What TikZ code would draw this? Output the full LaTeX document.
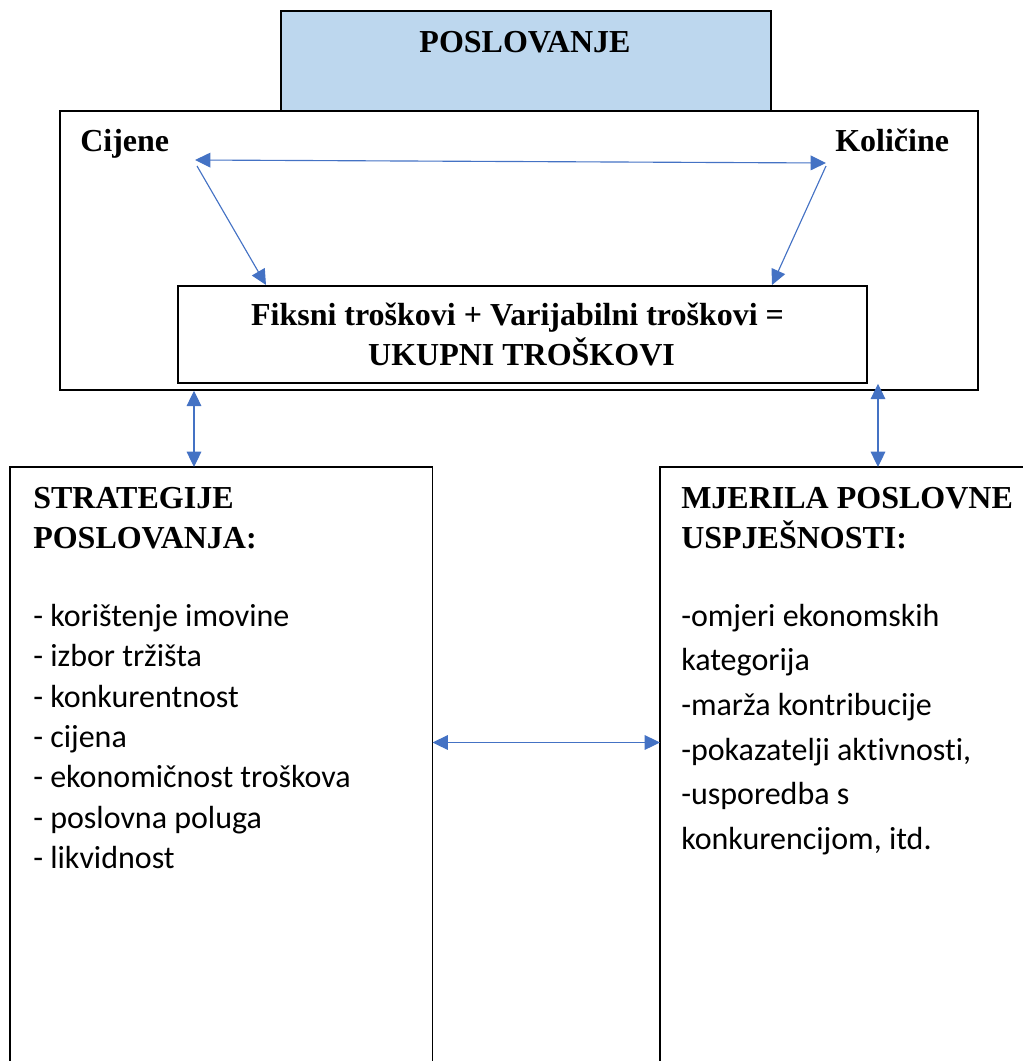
\documentclass[tikz,border=0pt]{standalone}
\usepackage{fontspec}
\setmainfont{Liberation Serif}
\newfontfamily\bodyfont[Ligatures=NoCommon]{Carlito}
\usetikzlibrary{arrows.meta,calc}
\definecolor{arrowblue}{HTML}{4472C4}
\definecolor{boxblue}{HTML}{BDD7EE}
\newcommand\hstrut{\rule{0pt}{22pt}}
\begin{document}
\begin{tikzpicture}[x=0.75pt,y=-0.75pt,
  box/.style={draw=black,line width=1.3pt,inner sep=0pt,anchor=north west},
  area/.style={inner sep=0pt,anchor=north west},
  head/.style={font=\fontsize{24}{30}\selectfont\bfseries,inner sep=0pt},
  body/.style={font=\bodyfont\fontsize{24}{30.3}\selectfont,inner sep=0pt,anchor=north west,align=left},
  tip/.tip={Triangle[length=11.5pt,width=11pt]},
  arr/.style={draw=arrowblue,line width=0.85pt,-tip},
  darr/.style={draw=arrowblue,line width=0.85pt,tip-tip}]
\useasboundingbox (0,0) rectangle (1022,1061);
% boxes
\node[box,fill=boxblue,minimum width=367.5pt,minimum height=75pt] (posl) at (280,10) {};
\node[box,minimum width=688.5pt,minimum height=209.25pt] (outer) at (59,110) {};
\node[box,minimum width=516.75pt,minimum height=72.75pt] (inner) at (177,285) {};
\node[area,minimum width=316.5pt,minimum height=445.5pt] (strat) at (10,467) {};
\node[area,minimum width=271.5pt,minimum height=445.5pt] (mjer) at (660,467) {};
\draw[line width=1.3pt] (strat.south west) |- (strat.north east) -- (strat.south east);
\draw[line width=1.3pt] (mjer.south west) |- (mjer.north east);
% texts
\node[head,anchor=base] (poslt) at (525,52) {POSLOVANJE};
\node[head,anchor=base west] (cij) at (80,151) {Cijene};
\node[head,anchor=base west] (kol) at (835,151) {Količine};
\node[head,anchor=north,align=center] (innert) at (521.5,295.67)
  {\hstrut Fiksni troškovi + Varijabilni troškovi =\hspace*{6pt}\\UKUPNI TROŠKOVI};
\node[head,anchor=north west,align=left] (strath) at (33,478.67)
  {\hstrut STRATEGIJE\\POSLOVANJA:};
\node[head,anchor=north west,align=left] (mjerh) at (681,478.67)
  {\hstrut MJERILA POSLOVNE\\USPJEŠNOSTI:};
\node[body] (stratb) at (33,596.67)
  {\hstrut - korištenje imovine\\- izbor tržišta\\- konkurentnost\\- cijena\\- ekonomičnost troškova\\- poslovna poluga\\- likvidnost};
\node[body,font=\bodyfont\fontsize{24}{33.5}\selectfont] (mjerb) at (681,596.67)
  {\hstrut -omjeri ekonomskih\\kategorija\\-marža kontribucije\\-pokazatelji aktivnosti,\\-usporedba s\\konkurencijom, itd.};
% connector points
\coordinate (hL) at (195,160);
\coordinate (hR) at (826,163);
\coordinate (dL) at (197,166);
\coordinate (dR) at (826,166);
\coordinate (xL) at (266,0);
\coordinate (xR) at (772,0);
\coordinate (vL) at (194,0);
\coordinate (vR) at (878,0);
\coordinate (mid) at (0,742.5);
% connectors
\draw[darr] (hL) -- (hR);
\draw[arr] (dL) -- (inner.north -| xL);
\draw[arr] (dR) -- (inner.north -| xR);
\draw[darr] (outer.south -| vL) -- (strat.north -| vL);
\draw[darr] (inner.south -| vR) -- (mjer.north -| vR);
\draw[darr] (strat.east |- mid) -- (mjer.west |- mid);
\end{tikzpicture}
\end{document}
